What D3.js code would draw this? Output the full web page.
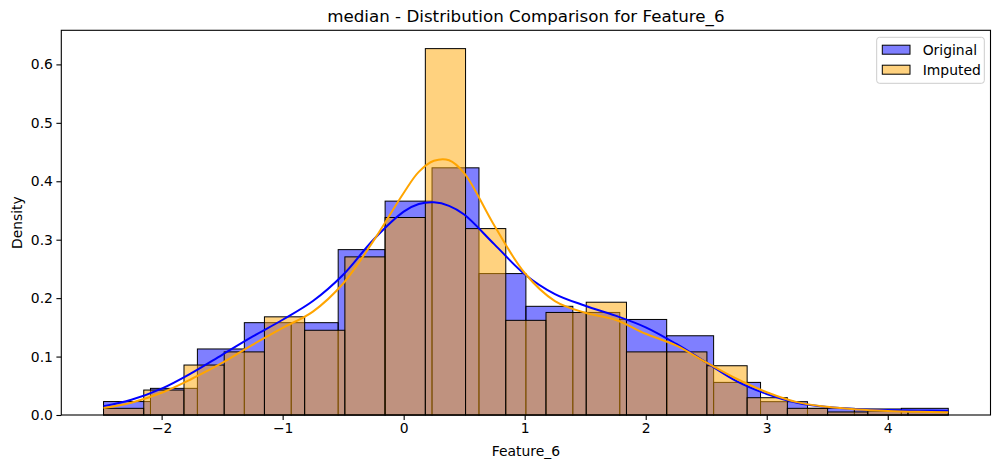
<!DOCTYPE html>
<html>
<head>
<meta charset="utf-8">
<script src="https://cdn.jsdelivr.net/npm/d3@7"></script>
<style>
  body { margin: 0; background: #fff; }
  text { font-family: "DejaVu Sans", sans-serif; fill: #000; }
</style>
</head>
<body>
<div id="chart"></div>
<script>
// data range of the feature (both series share it)
var dataMin = -2.48,
    dataMax = 4.50;

// Original: 18 bins, density per bin
var originalDensity = [0.023, 0.0456, 0.113, 0.158, 0.158, 0.283, 0.366, 0.423, 0.242,
  0.186, 0.1755, 0.1635, 0.1356, 0.0558, 0.0228, 0.0114, 0.0103, 0.0114];

// Imputed: 21 bins, density per bin
var imputedDensity = [0.0114, 0.0427, 0.0855, 0.108, 0.168, 0.145, 0.2706, 0.338, 0.627,
  0.319, 0.162, 0.1755, 0.193, 0.108, 0.108, 0.0843, 0.0296, 0.0114, 0.0052, 0.0069, 0.0057];

// kde curves
var kdeX = [-2.48, -2.25, -2.0, -1.75, -1.5, -1.25, -1.0, -0.75, -0.5, -0.25, 0, 0.125, 0.25,
  0.375, 0.5, 0.75, 1.0, 1.25, 1.5, 1.75, 2.0, 2.25, 2.5, 2.75, 3.0, 3.25, 3.5, 3.75, 4.0,
  4.25, 4.5];
var originalKde = [0.015, 0.026, 0.045, 0.072, 0.103, 0.134, 0.163, 0.195, 0.240, 0.300, 0.348,
  0.361, 0.364, 0.358, 0.343, 0.292, 0.241, 0.207, 0.187, 0.170, 0.150, 0.122, 0.090, 0.058,
  0.036, 0.021, 0.0135, 0.010, 0.0085, 0.0078, 0.0072];
var imputedKde = [0.012, 0.021, 0.038, 0.062, 0.089, 0.120, 0.149, 0.177, 0.225, 0.298, 0.380,
  0.416, 0.435, 0.436, 0.414, 0.324, 0.243, 0.195, 0.175, 0.163, 0.139, 0.119, 0.090, 0.062,
  0.039, 0.022, 0.014, 0.0095, 0.007, 0.0055, 0.0046];

var xTicks = [-2, -1, 0, 1, 2, 3, 4];
var yTicks = [0, 0.1, 0.2, 0.3, 0.4, 0.5, 0.6];

var width = 1001, height = 468;
var margin = {left: 61.3, right: 990.5, top: 30.3, bottom: 415};

var svg = d3.select('#chart').append('svg')
  .attr('width', width)
  .attr('height', height);

// matplotlib style 5% padding on x, y top at 1.05 * max
var pad = (dataMax - dataMin) * 0.05;
var x = d3.scaleLinear()
  .domain([dataMin - pad, dataMax + pad])
  .range([margin.left, margin.right]);
var yMax = 1.05 * d3.max(originalDensity.concat(imputedDensity));
var y = d3.scaleLinear()
  .domain([0, yMax])
  .range([margin.bottom, margin.top]);

// turn density list into bars with edges
var makeBins = (dens) => {
  var w = (dataMax - dataMin) / dens.length;
  return dens.map((d, i) => ({x0: dataMin + i * w, x1: dataMin + (i + 1) * w, d: d}));
};

var drawBars = (dens, color) => {
  svg.append('g').selectAll('rect')
    .data(makeBins(dens))
    .enter().append('rect')
    .attr('x', b => x(b.x0))
    .attr('width', b => x(b.x1) - x(b.x0))
    .attr('y', b => y(b.d))
    .attr('height', b => y(0) - y(b.d))
    .attr('fill', color)
    .attr('fill-opacity', 0.5)
    .attr('stroke', '#000')
    .attr('stroke-width', 1);
};

drawBars(originalDensity, 'blue');
drawBars(imputedDensity, 'orange');

// kde lines
var line = d3.line()
  .x(d => x(d[0]))
  .y(d => y(d[1]))
  .curve(d3.curveCatmullRom.alpha(0.5));

svg.append('path')
  .attr('d', line(d3.zip(kdeX, originalKde)))
  .attr('fill', 'none')
  .attr('stroke', 'blue')
  .attr('stroke-width', 2);
svg.append('path')
  .attr('d', line(d3.zip(kdeX, imputedKde)))
  .attr('fill', 'none')
  .attr('stroke', 'orange')
  .attr('stroke-width', 2);

// axes
var fmtX = d => d3.format('d')(d).replace('-', '\u2212');
var xAxis = d3.axisBottom(x).tickValues(xTicks).tickSize(4.9).tickPadding(3.5).tickFormat(fmtX);
var yAxis = d3.axisLeft(y).tickValues(yTicks).tickSize(4.9).tickPadding(3.5).tickFormat(d3.format('.1f'));

var gx = svg.append('g').attr('transform', 'translate(0,' + margin.bottom + ')').call(xAxis);
var gy = svg.append('g').attr('transform', 'translate(' + margin.left + ',0)').call(yAxis);
[gx, gy].forEach(g => {
  g.select('.domain').remove();
  g.selectAll('line').attr('stroke', '#000').attr('stroke-width', 1.1);
  g.selectAll('text').attr('font-size', '13.9px').attr('font-family', '"DejaVu Sans", sans-serif');
});

// frame
svg.append('rect')
  .attr('x', margin.left)
  .attr('y', margin.top)
  .attr('width', margin.right - margin.left)
  .attr('height', margin.bottom - margin.top)
  .attr('fill', 'none')
  .attr('stroke', '#000')
  .attr('stroke-width', 1.1);

// labels
svg.append('text')
  .attr('x', (margin.left + margin.right) / 2)
  .attr('y', 22)
  .attr('text-anchor', 'middle')
  .attr('font-size', '16.7px')
  .text('median - Distribution Comparison for Feature_6');

svg.append('text')
  .attr('x', (margin.left + margin.right) / 2)
  .attr('y', 456)
  .attr('text-anchor', 'middle')
  .attr('font-size', '13.9px')
  .text('Feature_6');

svg.append('text')
  .attr('transform', 'translate(16.7,' + (margin.top + margin.bottom) / 2 + ') rotate(-90)')
  .attr('text-anchor', 'middle')
  .attr('dy', '0.35em')
  .attr('font-size', '13.9px')
  .text('Density');

// legend
var legend = svg.append('g');
legend.append('rect')
  .attr('x', 876.7).attr('y', 37.3)
  .attr('width', 107.6).attr('height', 46)
  .attr('rx', 2.8)
  .attr('fill', '#fff').attr('fill-opacity', 0.8)
  .attr('stroke', '#cccccc').attr('stroke-width', 1);

var items = [{name: 'Original', color: 'blue'}, {name: 'Imputed', color: 'orange'}];
items.forEach((it, i) => {
  var cy = 49.7 + i * 20;
  legend.append('rect')
    .attr('x', 882.3).attr('y', cy - 4.5)
    .attr('width', 27.7).attr('height', 9)
    .attr('fill', it.color).attr('fill-opacity', 0.5)
    .attr('stroke', '#000').attr('stroke-width', 1);
  legend.append('text')
    .attr('x', 922.7).attr('y', cy + 5)
    .attr('font-size', '13.9px')
    .text(it.name);
});
</script>
</body>
</html>
